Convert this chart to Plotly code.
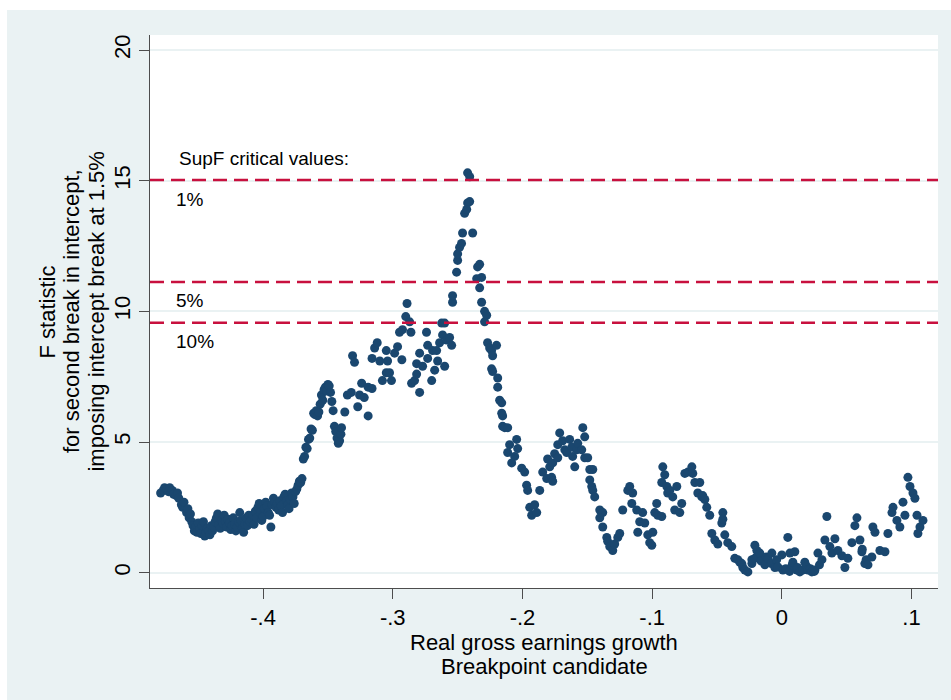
import plotly.graph_objects as go

# Breakpoint candidate (real gross earnings growth) and F statistic, in segments
seg_plateau = [
    (-0.479, 3.05), (-0.477, 3.15), (-0.476, 3.25), (-0.474, 3.2), (-0.473, 3.1), (-0.472, 3.25),
    (-0.470, 3.15), (-0.469, 3.0), (-0.467, 2.95), (-0.466, 3.05), (-0.465, 2.85), (-0.463, 2.6),
    (-0.462, 2.5), (-0.461, 2.7), (-0.459, 2.3), (-0.458, 2.45), (-0.457, 2.1), (-0.456, 2.25),
    (-0.455, 1.95), (-0.454, 1.8), (-0.453, 1.6), (-0.452, 1.75), (-0.451, 1.55), (-0.450, 1.9),
    (-0.449, 1.65), (-0.448, 1.5), (-0.447, 1.8), (-0.446, 1.95), (-0.445, 1.4), (-0.444, 1.55),
    (-0.443, 1.7), (-0.442, 1.6), (-0.441, 1.45), (-0.440, 1.8), (-0.439, 1.6), (-0.438, 1.75),
    (-0.437, 1.95), (-0.436, 2.1), (-0.435, 2.25), (-0.434, 1.85), (-0.433, 1.7), (-0.432, 2.0),
    (-0.431, 1.9), (-0.430, 2.2), (-0.429, 1.95), (-0.428, 1.75), (-0.427, 2.05), (-0.426, 1.9),
    (-0.425, 1.65), (-0.424, 1.8), (-0.423, 2.1), (-0.422, 1.85), (-0.421, 1.6), (-0.420, 1.75),
    (-0.419, 1.95), (-0.418, 2.3), (-0.417, 2.0), (-0.416, 1.7), (-0.415, 1.55), (-0.414, 1.85),
    (-0.413, 2.1), (-0.412, 1.8), (-0.411, 2.2), (-0.410, 1.95), (-0.409, 2.05), (-0.408, 2.2),
    (-0.407, 1.85), (-0.406, 2.35), (-0.405, 2.1), (-0.404, 2.5), (-0.403, 2.65), (-0.402, 2.3),
    (-0.401, 2.0), (-0.400, 2.15), (-0.399, 2.45), (-0.398, 2.7), (-0.397, 2.55), (-0.396, 2.3),
    (-0.395, 2.2), (-0.394, 1.75), (-0.393, 2.6), (-0.392, 2.85), (-0.391, 2.7), (-0.390, 2.5),
    (-0.389, 2.65), (-0.388, 2.4), (-0.387, 2.75), (-0.386, 2.55), (-0.385, 2.3), (-0.384, 2.9),
    (-0.383, 3.0), (-0.382, 2.75), (-0.381, 2.6), (-0.380, 2.45), (-0.379, 2.8), (-0.378, 3.05),
    (-0.377, 2.9), (-0.376, 2.65), (-0.375, 3.1), (-0.374, 3.2), (-0.373, 3.35), (-0.372, 3.5),
    (-0.371, 3.45), (-0.370, 3.6),
]

seg_rise = [
    (-0.369, 4.35), (-0.368, 4.45), (-0.367, 4.8), (-0.366, 4.75), (-0.365, 5.1), (-0.364, 5.15),
    (-0.363, 5.5), (-0.362, 5.45), (-0.361, 6.1), (-0.360, 6.05), (-0.359, 6.2), (-0.358, 6.0),
    (-0.357, 6.15), (-0.356, 6.45), (-0.355, 6.8), (-0.354, 6.6), (-0.353, 7.0), (-0.352, 7.1),
    (-0.351, 6.95), (-0.350, 7.2), (-0.349, 7.15), (-0.348, 6.9), (-0.347, 6.55), (-0.346, 6.2),
    (-0.345, 5.6), (-0.344, 5.4), (-0.343, 5.15), (-0.342, 4.95), (-0.341, 5.05), (-0.340, 5.3),
    (-0.3395, 5.55), (-0.337, 6.15), (-0.335, 6.8), (-0.332, 6.9), (-0.331, 8.3), (-0.3295, 8.05),
    (-0.327, 6.35), (-0.3256, 6.8), (-0.324, 7.25), (-0.322, 6.7), (-0.319, 6.0), (-0.319, 7.1),
    (-0.316, 7.05), (-0.316, 8.2), (-0.314, 8.6), (-0.312, 8.8), (-0.310, 8.1), (-0.308, 7.35),
    (-0.305, 7.65), (-0.305, 8.5), (-0.304, 8.1), (-0.3025, 7.65), (-0.301, 7.35), (-0.2986, 8.4),
    (-0.2963, 8.65), (-0.2948, 9.2), (-0.293, 8.15), (-0.2925, 9.3), (-0.290, 9.8), (-0.289, 10.3),
    (-0.287, 9.6), (-0.286, 9.2),
]

seg_peak = [
    (-0.2855, 7.25), (-0.2832, 7.35), (-0.2816, 7.6), (-0.2816, 8.0), (-0.2793, 6.9), (-0.2793, 8.4),
    (-0.277, 7.9), (-0.274, 9.2), (-0.2731, 8.7), (-0.2731, 8.2), (-0.270, 7.35), (-0.2693, 8.5),
    (-0.2677, 7.75), (-0.2662, 8.5), (-0.2654, 8.1), (-0.2639, 8.8), (-0.2623, 9.55), (-0.2616, 9.1),
    (-0.260, 9.55), (-0.260, 7.9), (-0.2585, 8.9), (-0.2562, 9.0), (-0.2546, 8.7), (-0.2539, 10.35),
    (-0.2539, 10.6), (-0.2508, 11.5), (-0.250, 11.95), (-0.250, 12.2), (-0.2485, 12.45), (-0.247, 12.6),
    (-0.2462, 13.0), (-0.2446, 13.75), (-0.243, 13.9), (-0.2423, 14.15), (-0.2407, 14.2),
    (-0.2423, 15.3), (-0.2407, 15.15), (-0.2384, 13.0), (-0.2353, 11.25), (-0.2346, 11.7),
    (-0.233, 11.8), (-0.233, 10.9), (-0.2315, 11.3), (-0.2315, 10.35), (-0.2292, 10.0),
    (-0.2292, 9.6), (-0.2276, 9.85), (-0.2269, 8.8), (-0.2253, 8.6), (-0.2238, 8.5), (-0.223, 8.3),
    (-0.2238, 7.8), (-0.223, 7.7), (-0.220, 8.7), (-0.2191, 7.45), (-0.2191, 7.1), (-0.2176, 6.6),
    (-0.216, 6.5), (-0.216, 6.1),
]

seg_decline = [
    (-0.2153, 6.0), (-0.2153, 5.6), (-0.2137, 5.55), (-0.2114, 5.55), (-0.2099, 4.9), (-0.2045, 5.1),
    (-0.2037, 4.75), (-0.2114, 4.6), (-0.206, 4.45), (-0.2083, 4.2), (-0.2006, 4.0), (-0.1983, 3.85),
    (-0.1968, 3.35), (-0.196, 3.15), (-0.1944, 2.5), (-0.1906, 2.6), (-0.1929, 2.2), (-0.189, 2.3),
    (-0.1867, 3.15), (-0.1844, 3.85), (-0.1813, 3.6), (-0.179, 4.05), (-0.1806, 4.35), (-0.1775, 3.65),
    (-0.1767, 3.5), (-0.1767, 4.2), (-0.1752, 4.55), (-0.1728, 4.4), (-0.1728, 4.9), (-0.1713, 5.35),
    (-0.169, 5.05), (-0.1674, 4.7), (-0.1659, 4.6), (-0.1636, 5.1), (-0.162, 4.8), (-0.1613, 4.45),
    (-0.1597, 4.05), (-0.1582, 4.7), (-0.1574, 4.95), (-0.1543, 4.7), (-0.1535, 5.55), (-0.152, 5.2),
    (-0.152, 4.4), (-0.1497, 4.4), (-0.1481, 3.95), (-0.1458, 3.95), (-0.1481, 3.55), (-0.1466, 3.3),
    (-0.1458, 3.15), (-0.1443, 2.9), (-0.1404, 2.4), (-0.1381, 2.3), (-0.1404, 2.1), (-0.1381, 1.75),
    (-0.135, 1.35), (-0.1343, 1.2), (-0.1327, 1.0), (-0.1304, 0.85), (-0.1289, 1.1), (-0.1265, 1.35),
    (-0.125, 1.5), (-0.1227, 2.4), (-0.1188, 3.15), (-0.1173, 3.3), (-0.1157, 2.65), (-0.115, 3.05),
    (-0.1119, 2.4), (-0.1096, 1.95), (-0.1111, 1.55), (-0.1073, 2.3), (-0.1057, 1.9), (-0.1034, 1.45),
    (-0.1019, 1.15), (-0.1003, 1.05), (-0.0995, 1.55),
]

seg_trough = [
    (-0.098, 2.3), (-0.0965, 2.65), (-0.0957, 2.2), (-0.0926, 2.15), (-0.0926, 3.45), (-0.0918, 4.05),
    (-0.0903, 3.75), (-0.0887, 3.3), (-0.088, 3.05), (-0.0864, 3.15), (-0.0841, 2.9), (-0.081, 3.3),
    (-0.0826, 2.4), (-0.0787, 2.3), (-0.0772, 2.65), (-0.0748, 3.8), (-0.0725, 3.85), (-0.0694, 4.05),
    (-0.0687, 3.8), (-0.0671, 3.45), (-0.0648, 3.05), (-0.0633, 3.45), (-0.0617, 2.9), (-0.061, 2.95),
    (-0.0594, 2.8), (-0.0579, 2.5), (-0.0556, 2.2), (-0.054, 1.5), (-0.0517, 1.25), (-0.0494, 1.1),
    (-0.0463, 1.9), (-0.0455, 2.3), (-0.0455, 2.05), (-0.044, 1.45), (-0.0417, 1.15), (-0.0386, 1.0),
    (-0.0363, 0.55), (-0.034, 0.5), (-0.0324, 0.4), (-0.0309, 0.35), (-0.0301, 0.2), (-0.0285, 0.1),
    (-0.0262, 0.03), (-0.0231, 0.35), (-0.0231, 0.5), (-0.0208, 0.55), (-0.0208, 1.05), (-0.0193, 0.85),
    (-0.017, 0.75), (-0.016, 0.45), (-0.0131, 0.3), (-0.012, 0.6), (-0.0108, 0.55), (-0.008, 0.35),
    (-0.0077, 0.75), (-0.0054, 0.2), (-0.004, 0.5), (-0.0031, 0.22), (0.0, 0.68), (0.0008, 0.1),
    (0.003, 0.15), (0.0046, 1.35), (0.006, 0.05), (0.0062, 0.75), (0.008, 0.3), (0.0085, 0.4),
    (0.010, 0.8), (0.0116, 0.1), (0.012, 0.2), (0.0139, 0.03), (0.016, 0.1), (0.0177, 0.4),
    (0.019, 0.25), (0.0201, 0.1), (0.022, 0.15), (0.0231, 0.03), (0.025, 0.05), (0.0255, 0.1),
    (0.0278, 0.75), (0.029, 0.3), (0.0309, 0.5), (0.0332, 1.25), (0.0347, 2.15), (0.037, 1.0),
    (0.0386, 0.75), (0.0409, 1.3), (0.0432, 0.85), (0.0463, 0.65), (0.0486, 0.2), (0.0509, 0.55),
    (0.054, 1.15), (0.0563, 1.8), (0.0579, 2.1), (0.0602, 1.25), (0.0617, 0.8), (0.062, 0.9),
    (0.064, 0.35), (0.065, 0.5), (0.0664, 0.3), (0.0694, 0.6), (0.0702, 1.75), (0.0718, 1.55),
    (0.0756, 0.85), (0.0795, 0.8), (0.0818, 1.5), (0.0849, 2.3), (0.0857, 2.5), (0.0887, 2.0),
    (0.091, 1.75), (0.0934, 2.7), (0.0949, 2.2), (0.0972, 3.65), (0.0988, 3.3), (0.1011, 3.05),
    (0.1026, 2.85), (0.1042, 2.2), (0.1049, 1.5), (0.1065, 1.75), (0.1088, 2.0),
]

# SupF critical values (10%, 5%, 1%)
crit_labels = ["10%", "5%", "1%"]
crit_values = [9.56, 11.12, 15.03]

x_ticks = [-0.4, -0.3, -0.2, -0.1, 0.0, 0.1]
x_ticktext = ["-.4", "-.3", "-.2", "-.1", "0", ".1"]
y_ticks = [0, 5, 10, 15, 20]
y_ticktext = ["0", "5", "10", "15", "20"]

FONT = "Liberation Sans, Arial, sans-serif"
NAVY = "#1A476F"
CRANBERRY = "#C8103E"
BG = "#EAF2F3"
AXIS = "#4D4D4D"

points = seg_plateau + seg_rise + seg_peak + seg_decline + seg_trough
xs = [p[0] for p in points]
ys = [p[1] for p in points]

fig = go.Figure()
fig.add_trace(go.Scatter(
    x=xs, y=ys, mode="markers",
    marker=dict(color=NAVY, size=9, line=dict(width=0)),
    showlegend=False, hoverinfo="skip",
))

for v in crit_values:
    fig.add_hline(y=v, line=dict(color=CRANBERRY, width=2.5, dash="14px,7px"), layer="above")

# outer graph region and white plot region
fig.add_shape(type="rect", xref="paper", yref="paper", x0=-0.1815, x1=1.02, y0=-0.21, y1=1.0452,
              fillcolor=BG, line=dict(width=0), layer="below")
fig.add_shape(type="rect", xref="paper", yref="paper", x0=0, x1=1, y0=0, y1=1,
              fillcolor="white", line=dict(width=0), layer="below")

txt = dict(family=FONT, size=19, color="black")
fig.add_annotation(x=-0.466, y=15.83, xref="x", yref="y", text="SupF critical values:",
                   showarrow=False, xanchor="left", yanchor="middle", font=txt)
label_y = {"1%": 14.29, "5%": 10.4, "10%": 8.86}
for lab in crit_labels:
    fig.add_annotation(x=-0.4684, y=label_y[lab], xref="x", yref="y", text=lab,
                       showarrow=False, xanchor="left", yanchor="middle", font=txt)

title_font = dict(family=FONT, size=22, color="black")
y_title_lines = ["F statistic", "for second break in intercept,", "imposing intercept break at 1.5%"]
for xp, line in zip([-0.1295, -0.0995, -0.0685], y_title_lines):
    fig.add_annotation(x=xp, y=0.5, xref="paper", yref="paper", text=line, textangle=-90,
                       showarrow=False, xanchor="center", yanchor="middle", font=title_font)
x_title_lines = ["Real gross earnings growth", "Breakpoint candidate"]
for yp, line in zip([-0.0985, -0.1425], x_title_lines):
    fig.add_annotation(x=0.5, y=yp, xref="paper", yref="paper", text=line,
                       showarrow=False, xanchor="center", yanchor="middle", font=title_font)

fig.update_xaxes(
    range=[-0.4872, 0.1204], tickvals=x_ticks, ticktext=x_ticktext,
    showgrid=False, zeroline=False, showline=True, linecolor=AXIS, linewidth=1,
    ticks="outside", ticklen=10, tickcolor=AXIS, tickwidth=1,
    tickfont=dict(family=FONT, size=22, color="black"),
)
fig.update_yaxes(
    range=[-0.585, 20.574], tickvals=y_ticks, ticktext=y_ticktext, tickangle=-90,
    showgrid=True, gridcolor=BG, gridwidth=1.5, zeroline=False,
    showline=True, linecolor=AXIS, linewidth=1,
    ticks="outside", ticklen=10, tickcolor=AXIS, tickwidth=1,
    tickfont=dict(family=FONT, size=22, color="black"),
)

fig.update_layout(
    width=951, height=700,
    margin=dict(l=150, r=13, t=35, b=112),
    paper_bgcolor="white", plot_bgcolor="white",
    font=dict(family=FONT),
)

fig.write_html("out.html")
